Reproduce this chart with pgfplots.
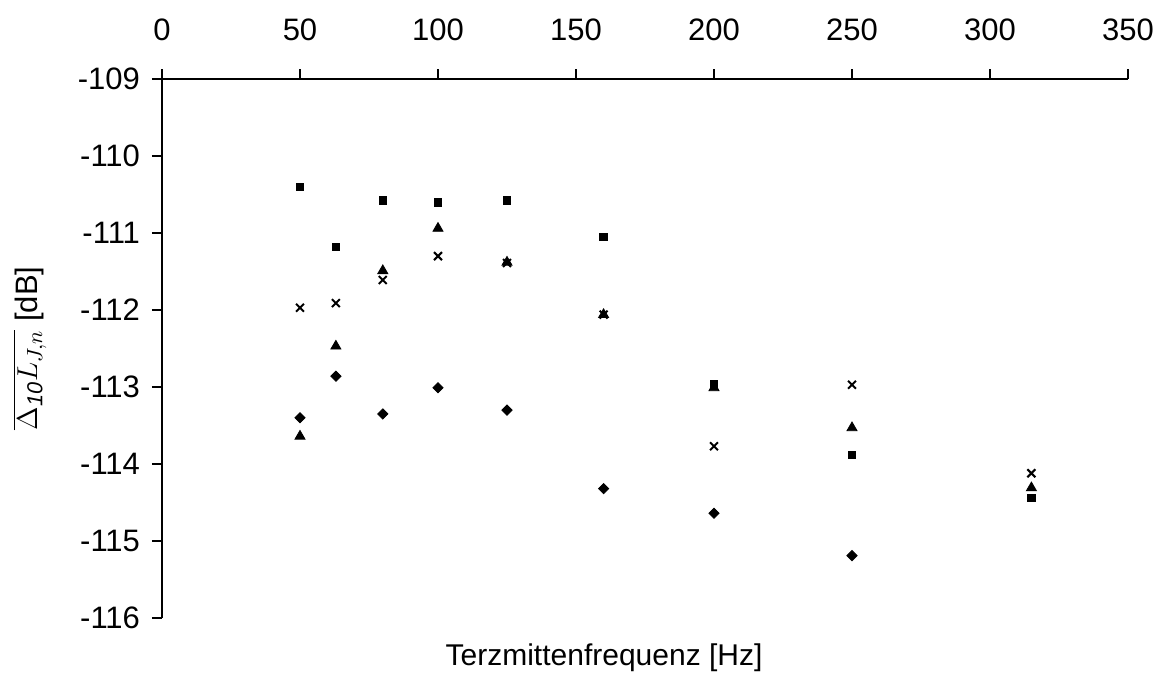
\documentclass[border=0pt]{standalone}
\usepackage{fontspec}
\setmainfont{Liberation Sans}
\usepackage{pgfplots}
\pgfplotsset{compat=1.18}

\begin{document}
\begin{tikzpicture}
\begin{axis}[
    scale only axis,
    width=483pt, height=269.5pt,
    xmin=0, xmax=350,
    ymin=-116, ymax=-109,
    xtick={0,50,...,350},
    ytick={-116,-115,...,-109},
    axis x line=top,
    axis y line=left,
    axis line style={-, line width=1pt},
    tick style={line width=1pt, black},
    tick align=outside,
    major tick length=5pt,
    minor tick num=0,
    every tick label/.append style={font=\fontsize{15.5}{18}\selectfont},
    /pgf/number format/assume math mode=true,
    /pgf/number format/1000 sep={},
    xticklabel style={anchor=base, yshift=14.5pt},
    yticklabel style={xshift=-2.5pt},
    clip=false,
]
% squares
\addplot[only marks, mark=square*, mark size=1.9pt, black] coordinates {
    (50,-110.40) (63,-111.18) (80,-110.58) (100,-110.60) (125,-110.58)
    (160,-111.05) (200,-112.97) (250,-113.88) (315,-114.44)
};
% crosses
\addplot[only marks, mark=x, mark size=2.8pt, black, line width=1pt] coordinates {
    (50,-111.97) (63,-111.91) (80,-111.61) (100,-111.30) (125,-111.39)
    (160,-112.06) (200,-113.77) (250,-112.97) (315,-114.12)
};
% triangles
\addplot[only marks, mark=triangle*, mark size=2.9pt, black] coordinates {
    (50,-113.64) (63,-112.47) (80,-111.49) (100,-110.94) (125,-111.38)
    (160,-112.06) (200,-113.01) (250,-113.53) (315,-114.31)
};
% diamonds
\addplot[only marks, mark=square*, mark options={rotate=45}, mark size=1.8pt, black] coordinates {
    (50,-113.40) (63,-112.86) (80,-113.35) (100,-113.01) (125,-113.30)
    (160,-114.32) (200,-114.64) (250,-115.19)
};
% labels
\node[font=\fontsize{15}{18}\selectfont, anchor=base] at (rel axis cs:0.4576,0) [yshift=-23.5pt] {Terzmittenfrequenz [Hz]};
\node[xshift=-66pt, rotate=90, font=\fontsize{15.5}{18}\selectfont] at (rel axis cs:0,0.5) {$\overline{\Delta_{\mathit{10}}L_{J,n}}$ [dB]};
% page extent
\path (rel axis cs:0,0) ++(-81pt,-27.5pt) (rel axis cs:1,1) ++(16.5pt,39.5pt);
\end{axis}
\end{tikzpicture}
\end{document}
